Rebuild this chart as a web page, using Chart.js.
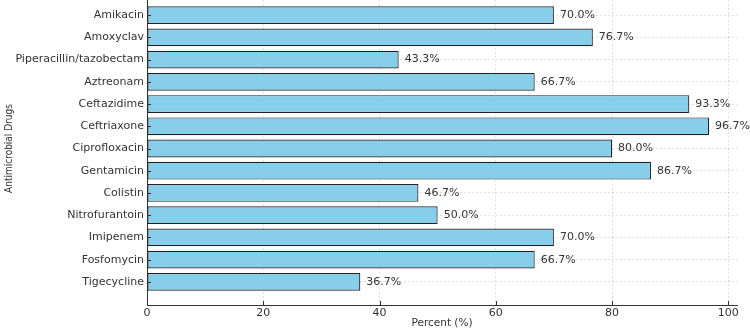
<!DOCTYPE html>
<html>
<head>
<meta charset="utf-8">
<script src="https://cdn.jsdelivr.net/npm/chart.js@4/dist/chart.umd.min.js"></script>
<style>
    html, body { margin: 0; padding: 0; background: #fff; overflow: hidden; }
    #wrap { position: relative; width: 750px; height: 330px; overflow: hidden; }
    #chart { position: absolute; left: 0; top: -20px; }
</style>
</head>
<body>
<div id="wrap"><canvas id="chart" width="750" height="350"></canvas></div>
<script>
// ── Data ─────────────────────────────────────────────────────────────────────

const drugs = [
    'Amikacin', 'Amoxyclav', 'Piperacillin/tazobectam', 'Aztreonam',
    'Ceftazidime', 'Ceftriaxone', 'Ciprofloxacin', 'Gentamicin',
    'Colistin', 'Nitrofurantoin', 'Imipenem', 'Fosfomycin', 'Tigecycline',
];
const percents = [70.0, 76.7, 43.3, 66.7, 93.3, 96.7, 80.0, 86.7, 46.7, 50.0, 70.0, 66.7, 36.7];
const xTicks = [0, 20, 40, 60, 80, 100];

const FONT = "'DejaVu Sans', sans-serif";
const TEXT = '#333';

// ── Plugins ──────────────────────────────────────────────────────────────────

// inward tick marks, drawn over the bars like the original
const innerTicks = {
    id: 'innerTicks',
    afterDatasetsDraw(chart) {
        const { ctx, chartArea, scales } = chart;
        ctx.save();
        ctx.strokeStyle = TEXT;
        ctx.lineWidth = 1;
        ctx.setLineDash([]);
        ctx.beginPath();
        drugs.forEach((_, i) => {
            const y = Math.round(scales.y.getPixelForValue(i)) + 0.5;
            ctx.moveTo(chartArea.left, y);
            ctx.lineTo(chartArea.left + 4, y);
        });
        xTicks.forEach(v => {
            const x = Math.round(scales.x.getPixelForValue(v)) + 0.5;
            ctx.moveTo(x, chartArea.bottom);
            ctx.lineTo(x, chartArea.bottom - 4);
        });
        ctx.stroke();
        ctx.restore();
    },
};

const valueLabels = {
    id: 'valueLabels',
    afterDatasetsDraw(chart) {
        const { ctx } = chart;
        const meta = chart.getDatasetMeta(0);
        ctx.save();
        ctx.font = `11px ${FONT}`;
        ctx.fillStyle = TEXT;
        ctx.textAlign = 'left';
        ctx.textBaseline = 'middle';
        meta.data.forEach((bar, i) => {
            ctx.fillText(`${percents[i].toFixed(1)}%`, bar.x + 6, bar.y);
        });
        ctx.restore();
    },
};

// ── Chart ────────────────────────────────────────────────────────────────────

const gridStyle = {
    color: 'rgba(0,0,0,0.16)',
    lineWidth: 0.8,
    drawTicks: false,
    offset: false,
};
const borderStyle = { display: true, color: TEXT, width: 1, dash: [2, 2] };

new Chart(document.getElementById('chart'), {
    type: 'bar',
    data: {
        datasets: [{
            data: percents.map((v, i) => ({ x: v, y: i })),
            backgroundColor: '#87CEEB',
            borderColor: '#222',
            borderWidth: 1.2,
            borderSkipped: false,
            barPercentage: 0.8,
            categoryPercentage: 1,
        }],
    },
    options: {
        indexAxis: 'y',
        responsive: false,
        animation: false,
        devicePixelRatio: 1,
        layout: { padding: { top: 12, right: 13, bottom: 0, left: 0 } },
        plugins: {
            legend: { display: false },
            tooltip: { enabled: false },
        },
        scales: {
            x: {
                type: 'linear',
                min: 0,
                max: 101.5,
                afterBuildTicks: scale => { scale.ticks = xTicks.map(v => ({ value: v })); },
                afterFit: scale => {
                    scale.height = 25;
                    scale.paddingLeft = 0;
                    scale.paddingRight = 0;
                },
                grid: gridStyle,
                border: borderStyle,
                ticks: {
                    color: TEXT,
                    padding: 2,
                    maxRotation: 0,
                    font: { family: FONT, size: 11 },
                },
                title: {
                    display: true,
                    text: 'Percent (%)',
                    color: TEXT,
                    padding: { top: 0, bottom: 0 },
                    font: { family: FONT, size: 10.5 },
                },
            },
            y: {
                type: 'linear',
                reverse: true,
                offset: false,
                min: -1.04,
                max: 13.04,
                afterBuildTicks: scale => { scale.ticks = drugs.map((_, i) => ({ value: i })); },
                afterFit: scale => {
                    scale.width = 147;
                    scale.paddingTop = 0;
                    scale.paddingBottom = 0;
                },
                grid: gridStyle,
                border: borderStyle,
                ticks: {
                    color: TEXT,
                    padding: 3,
                    autoSkip: false,
                    font: { family: FONT, size: 11 },
                    callback: value => drugs[value],
                },
                title: {
                    display: true,
                    text: 'Antimicrobial Drugs',
                    color: TEXT,
                    padding: { top: 3, bottom: 0 },
                    font: { family: "'Liberation Sans Narrow', 'DejaVu Sans Condensed', sans-serif", size: 10 },
                },
            },
        },
    },
    plugins: [innerTicks, valueLabels],
});
</script>
</body>
</html>
